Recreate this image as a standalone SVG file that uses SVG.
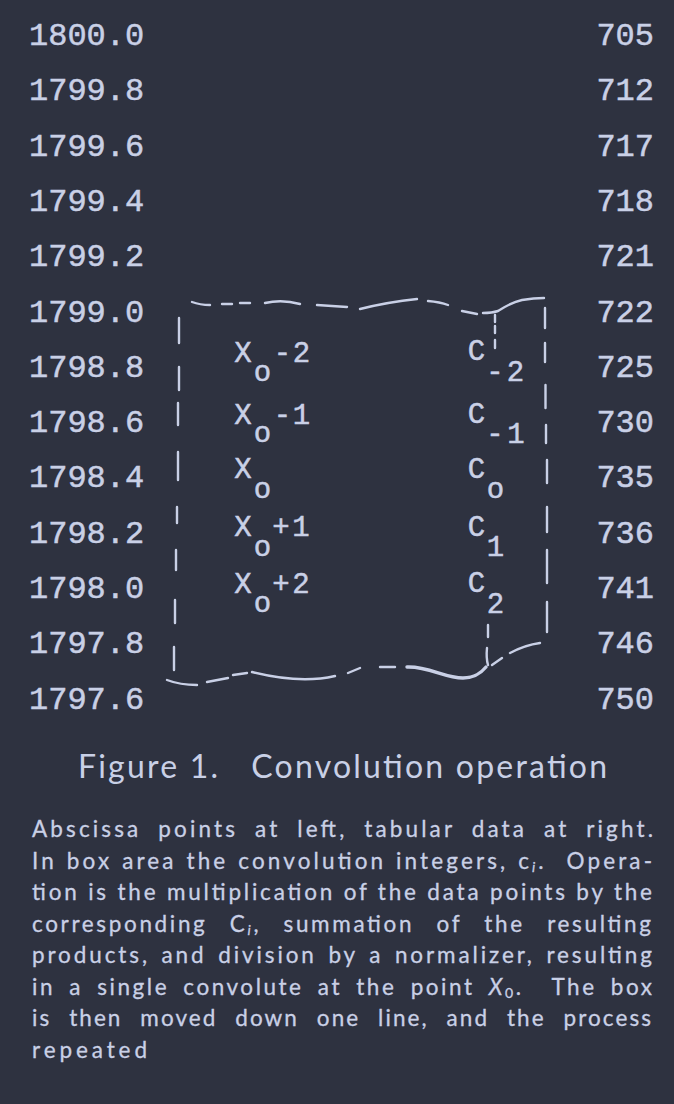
<svg xmlns="http://www.w3.org/2000/svg" width="674" height="1104" viewBox="0 0 674 1104">
<style>
.bg{fill:#2e3240}
.mono{font-family:"Liberation Mono","DejaVu Sans Mono",monospace;fill:#c9d0e6;stroke:#c9d0e6;stroke-width:0.5}
.num{font-size:32px}
.bx{font-size:29px;text-anchor:middle}
.end{text-anchor:end}
.sans{font-family:Lato,"Noto Sans","DejaVu Sans",sans-serif;fill:#c9d0e6}
.cap{font-size:32px}
.para{font-size:22.5px;stroke:#c9d0e6;stroke-width:0.3}
.sub{font-size:14px;font-style:italic}
.edge{stroke:#c9d0e6;stroke-width:2.4;fill:none;stroke-linecap:round}
.thick{stroke-width:3.4}
</style>
<rect class="bg" x="0" y="0" width="674" height="1104"/>

<g id="abscissa" class="mono num">
<text x="29" y="45">1800.0</text>
<text x="29" y="100.3">1799.8</text>
<text x="29" y="155.6">1799.6</text>
<text x="29" y="210.9">1799.4</text>
<text x="29" y="266.2">1799.2</text>
<text x="29" y="321.5">1799.0</text>
<text x="29" y="376.8">1798.8</text>
<text x="29" y="432.1">1798.6</text>
<text x="29" y="487.4">1798.4</text>
<text x="29" y="542.7">1798.2</text>
<text x="29" y="598">1798.0</text>
<text x="29" y="653.3">1797.8</text>
<text x="29" y="708.6">1797.6</text>
</g>

<g id="data" class="mono num end">
<text x="654" y="45">705</text>
<text x="654" y="100.3">712</text>
<text x="654" y="155.6">717</text>
<text x="654" y="210.9">718</text>
<text x="654" y="266.2">721</text>
<text x="654" y="321.5">722</text>
<text x="654" y="376.8">725</text>
<text x="654" y="432.1">730</text>
<text x="654" y="487.4">735</text>
<text x="654" y="542.7">736</text>
<text x="654" y="598">741</text>
<text x="654" y="653.3">746</text>
<text x="654" y="708.6">750</text>
</g>

<g id="convolution-box">
<g id="box-outline">
<path class="edge" d="M192,302 Q200,305 210,305"/>
<path class="edge" d="M222,304 L232,304"/>
<path class="edge" d="M240,303 L250,303"/>
<path class="edge" d="M265,303 Q282,299 300,304"/>
<path class="edge" d="M317,305 L347,307"/>
<path class="edge" d="M360,309 Q388,302 417,299"/>
<path class="edge" d="M428,301 Q440,302 448,305"/>
<path class="edge" d="M462,311 L477,314"/>
<path class="edge" d="M483,313 Q492,313 498,311 Q512,302 522,300 Q534,298 544,298"/>
<path class="edge" d="M495,315 L495,322 M495,326 L495,333 M495,340 L495,348"/>
<path class="edge" d="M545,308 L545,328 M545,343 L545,362 M545.5,385 L545.5,408 M546,425 L546,443 M547,460 L547,483 M547,507 L547,532 M547,550 L547,583 M547,602 L547,632"/>
<path class="edge" d="M179,318 L179,343 M179,367 L179,390 M178,403 L178,425 M178,452 L178,480 M177,507 L177,523 M176,550 L176,570 M175,600 L175,623 M174,647 L174,670"/>
<path class="edge" d="M167,680 Q180,685 197,685"/>
<path class="edge" d="M207,682 L228,678"/>
<path class="edge" d="M233,675 L247,673"/>
<path class="edge" d="M252,672 Q300,684 335,676"/>
<path class="edge" d="M348,673 L360,668"/>
<path class="edge" d="M380,667 L395,667"/>
<path class="edge thick" d="M407,667 C428,666 445,678 463,678 C475,678 481,673 486,667"/>
<path class="edge" d="M488,625 L488,637"/>
<path class="edge" d="M487,648 Q486,658 488,665"/>
<path class="edge" d="M492,665 L502,658"/>
<path class="edge" d="M510,653 Q525,645 540,643"/>
</g>
<g id="box-rows" class="mono bx">
<text x="243 262.5 282.5 301.5" y="362 381 362 362">Xo-2</text>
<text x="243 262.5 282.5 301.5" y="424 442 424 424">Xo-1</text>
<text x="243 262.5" y="478 498">Xo</text>
<text x="243 262.5 281 301" y="536 556 536 536">Xo+1</text>
<text x="243 262.5 281 301" y="593 612 593 593">Xo+2</text>
<text x="476.5 495 515.5" y="360 381 381">C-2</text>
<text x="476.5 495 516" y="423 443 443">C-1</text>
<text x="476.5 495.5" y="478 498">Co</text>
<text x="476.5 495.5" y="536 556">C1</text>
<text x="476.5 495.5" y="592 613">C2</text>
</g>
</g>

<g id="caption" class="sans">
<text class="cap" x="78" y="778" textLength="529" lengthAdjust="spacing" style="white-space:pre">Figure 1.   Convolution operation</text>
<g class="para">
<text x="32" y="837" textLength="621" lengthAdjust="spacing" word-spacing="8">Abscissa points at left, tabular data at right.</text>
<text x="32" y="868.5" textLength="620" lengthAdjust="spacing" word-spacing="1" style="white-space:pre">In box area the convolution integers, c<tspan class="sub" dy="3">i</tspan><tspan dy="-3">.  Opera-</tspan></text>
<text x="32" y="900" textLength="620" lengthAdjust="spacing">tion is the multiplication of the data points by the</text>
<text x="32" y="931.5" textLength="619" lengthAdjust="spacing" word-spacing="14">corresponding C<tspan class="sub" dy="3">i</tspan><tspan dy="-3">, summation of the resulting</tspan></text>
<text x="32" y="963" textLength="620" lengthAdjust="spacing" word-spacing="3">products, and division by a normalizer, resulting</text>
<text x="32" y="994.5" textLength="620" lengthAdjust="spacing" word-spacing="6" style="white-space:pre">in a single convolute at the point <tspan font-style="italic">X</tspan><tspan style="font-size:14px" dy="3">0</tspan><tspan dy="-3">.  The box</tspan></text>
<text x="32" y="1026" textLength="619" lengthAdjust="spacing" word-spacing="10">is then moved down one line, and the process</text>
<text x="32" y="1057.5" textLength="115" lengthAdjust="spacing">repeated</text>
</g>
</g>
</svg>
